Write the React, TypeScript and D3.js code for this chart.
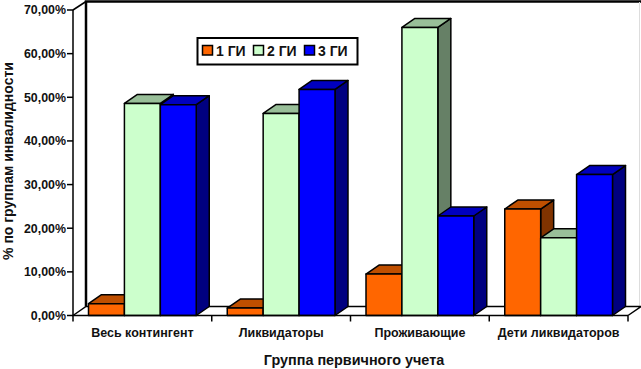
import * as d3 from "d3";

const categories = ["Весь контингент", "Ликвидаторы", "Проживающие", "Дети ликвидаторов"];
const seriesNames = ["1 ГИ", "2 ГИ", "3 ГИ"];
const series1 = [2.7, 1.7, 9.5, 24.4];
const series2 = [48.6, 46.3, 66, 17.8];
const series3 = [48.3, 51.8, 22.8, 32.3];
const seriesValues = [series1, series2, series3];
const yTicks = [0, 10, 20, 30, 40, 50, 60, 70];

const FRONT = ["#FF6600", "#CCFFCC", "#0000FF"];
const TOP = ["#BF4F00", "#99BF99", "#0000BF"];
const SIDE = ["#803300", "#668066", "#000080"];

const WIDTH = 641;
const HEIGHT = 369;
const DX = 13;
const DY = -9;
const FONT = "'Liberation Sans', Arial, sans-serif";

const x0 = d3.scaleBand().domain(categories).range([73, 628]).paddingInner(0);
const yScale = d3.scaleLinear().domain([0, 70]).range([315.5, 10]);
const inner = d3
  .scaleBand()
  .domain(seriesNames)
  .range([15.5, x0.bandwidth() - 15.5]);

const fmt = (v: number) => `${v.toFixed(2).replace(".", ",")}%`;

const Bar = ({ x, w, v, s }: { x: number; w: number; v: number; s: number }) => {
  const y = yScale(v);
  const y0 = yScale(0);
  return (
    <g stroke="#000" strokeWidth={1.5} strokeLinejoin="round">
      <path
        d={`M${x + w},${y}L${x + w + DX},${y + DY}L${x + w + DX},${y0 + DY}L${x + w},${y0}Z`}
        fill={SIDE[s]}
      />
      <path
        d={`M${x},${y}L${x + DX},${y + DY}L${x + w + DX},${y + DY}L${x + w},${y}Z`}
        fill={TOP[s]}
      />
      <rect x={x} y={y} width={w} height={y0 - y} fill={FRONT[s]} />
    </g>
  );
};

export default function App() {
  const y0 = yScale(0);
  const yT = yScale(70);
  const xL = 73;
  const xR = 628;
  return (
    <svg
      width={WIDTH}
      height={HEIGHT}
      style={{ position: "absolute", left: 0, top: 0, background: "#fff" }}
      fontFamily={FONT}
      fontWeight="bold"
    >
      {/* walls and floor */}
      <path d={`M${xL + DX},${y0 + DY}V1.5H${WIDTH}`} fill="none" stroke="#000" strokeWidth={2.5} />
      <path d={`M${xR + DX - 1.5},${2}V${y0 + DY}`} stroke="#ddd" strokeWidth={1} fill="none" />
      <path
        d={`M${xL},${y0}L${xL + DX},${y0 + DY}H${xR + DX}L${xR},${y0}`}
        fill="#fff"
        stroke="#000"
        strokeWidth={1.5}
      />
      <path d={`M${xL},${yT}L${xL + DX},1.5`} stroke="#000" strokeWidth={1.5} fill="none" />

      {/* bars */}
      {categories.map((c, i) => (
        <g key={c} transform={`translate(${x0(c)},0)`}>
          {seriesNames.map((n, s) => (
            <Bar key={n} x={inner(n)!} w={inner.bandwidth()} v={seriesValues[s][i]} s={s} />
          ))}
        </g>
      ))}

      {/* axes */}
      <path d={`M${xL},${yT}V${y0}H${xR}`} fill="none" stroke="#000" strokeWidth={1.5} />
      {yTicks.map((t) => (
        <g key={t} transform={`translate(${xL},${yScale(t)})`}>
          <line x1={-6} x2={0} stroke="#000" strokeWidth={1.5} />
          <text x={-7} dy="0.36em" textAnchor="end" fontSize={12.4} fill="#111">
            {fmt(t)}
          </text>
        </g>
      ))}
      {categories.map((c) => (
        <line key={c} x1={x0(c)} x2={x0(c)} y1={y0} y2={y0 + 6} stroke="#000" strokeWidth={1.5} />
      ))}
      <line x1={xR} x2={xR} y1={y0} y2={y0 + 6} stroke="#000" strokeWidth={1.5} />
      {categories.map((c) => (
        <text
          key={c}
          x={x0(c)! + x0.bandwidth() / 2}
          y={336.5}
          textAnchor="middle"
          fontSize={12.5}
          fill="#111"
        >
          {c}
        </text>
      ))}

      {/* axis titles */}
      <text x={354} y={365} textAnchor="middle" fontSize={14.4} fill="#111">
        Группа первичного учета
      </text>
      <text
        transform="translate(13,161) rotate(-90)"
        textAnchor="middle"
        fontSize={14}
        fill="#111"
      >
        % по группам инвалидности
      </text>

      {/* legend */}
      <rect x={197.5} y={38} width={160} height={26.5} fill="#fff" stroke="#000" strokeWidth={2} />
      {seriesNames.map((n, s) => (
        <g key={n} transform={`translate(${202.5 + s * 51},0)`}>
          <rect x={0} y={45.5} width={10} height={9.5} fill={FRONT[s]} stroke="#000" strokeWidth={1.5} />
          <text x={13.5} y={55.5} fontSize={14} fill="#111">
            {n}
          </text>
        </g>
      ))}
    </svg>
  );
}
